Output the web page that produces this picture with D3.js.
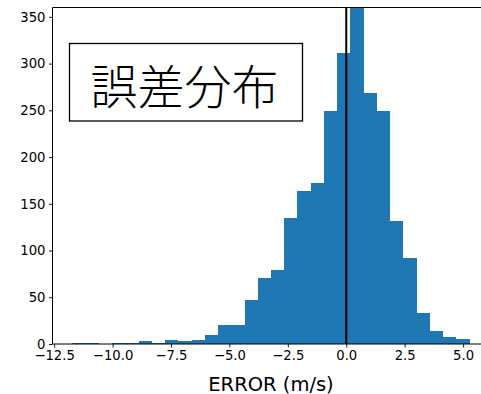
<!DOCTYPE html>
<html>
<head>
<meta charset="utf-8">
<script src="https://cdn.jsdelivr.net/npm/d3@7"></script>
<style>
  html, body { margin: 0; padding: 0; background: #fff; }
  svg { display: block; }
  text { font-family: "DejaVu Sans", sans-serif; fill: #000; }
</style>
</head>
<body>
<svg id="chart" width="481" height="394"></svg>
<script>
// Histogram bin edges (m/s) and counts per bin
const binEdges = [-11.72, -11.153, -10.587, -10.02, -9.453, -8.887, -8.32, -7.753, -7.187, -6.62,
  -6.053, -5.487, -4.92, -4.353, -3.787, -3.22, -2.653, -2.087, -1.52, -0.953,
  -0.387, 0.18, 0.747, 1.313, 1.88, 2.447, 3.013, 3.58, 4.147, 4.713, 5.28];
const binCounts = [1, 1, 0, 1, 1, 3, 1, 4, 3, 4,
  10, 20, 20, 47, 71, 79, 135, 164, 172, 249,
  311, 375, 269, 249, 132, 92, 33, 14, 7, 5];
const xTicks = [-12.5, -10.0, -7.5, -5.0, -2.5, 0.0, 2.5, 5.0];
const yTicks = [0, 50, 100, 150, 200, 250, 300, 350];
const xDomain = [-12.57, 6.13];
const yDomain = [0, 360];
const refLine = 0;
const titleText = "誤差分布";
const xLabel = "ERROR (m/s)";

const svg = d3.select("#chart");
const plot = { left: 52.5, right: 489.5, top: 7.5, bottom: 344 };

const x = d3.scaleLinear().domain(xDomain).range([plot.left, plot.right]);
const y = d3.scaleLinear().domain(yDomain).range([plot.bottom, plot.top]);

svg.append("defs").append("clipPath").attr("id", "plot-clip")
  .append("rect")
  .attr("x", plot.left).attr("y", plot.top)
  .attr("width", plot.right - plot.left).attr("height", plot.bottom - plot.top);

const bins = binCounts.map((c, i) => ({ x0: binEdges[i], x1: binEdges[i + 1], count: c }));

// bars
svg.append("g").attr("clip-path", "url(#plot-clip)")
  .selectAll("rect").data(bins).join("rect")
  .attr("x", d => x(d.x0))
  .attr("width", d => x(d.x1) - x(d.x0))
  .attr("y", d => y(d.count))
  .attr("height", d => y(0) - y(d.count))
  .attr("fill", "#1f77b4")
  .attr("shape-rendering", "crispEdges");

// vertical reference line at zero error
svg.append("line")
  .attr("x1", x(refLine)).attr("x2", x(refLine))
  .attr("y1", plot.top).attr("y2", plot.bottom)
  .attr("stroke", "#000").attr("stroke-width", 2);

// axes
const fmt = d => d3.format(".1f")(d).replace("-", "\u2212");
const xAxis = d3.axisBottom(x).tickValues(xTicks).tickFormat(fmt).tickSize(3.5).tickPadding(3.5);
const yAxis = d3.axisLeft(y).tickValues(yTicks).tickFormat(d3.format("d")).tickSize(3.5).tickPadding(3.5);

const gx = svg.append("g").attr("transform", `translate(0,${plot.bottom})`).call(xAxis);
const gy = svg.append("g").attr("transform", `translate(${plot.left},0)`).call(yAxis);
[gx, gy].forEach(g => {
  g.select(".domain").remove();
  g.selectAll(".tick line").attr("stroke", "#000").attr("stroke-width", 0.9);
  g.selectAll(".tick text").attr("font-family", "DejaVu Sans").attr("font-size", 13.2).attr("fill", "#000");
});

// spines (left, bottom, top; right one lies beyond the view)
const spine = svg.append("g").attr("stroke", "#000").attr("stroke-width", 1).attr("fill", "none");
spine.append("line").attr("x1", plot.left).attr("x2", plot.left).attr("y1", plot.top).attr("y2", plot.bottom);
spine.append("line").attr("x1", plot.left).attr("x2", plot.right).attr("y1", plot.bottom).attr("y2", plot.bottom);
spine.append("line").attr("x1", plot.left).attr("x2", plot.right).attr("y1", plot.top).attr("y2", plot.top);
spine.append("line").attr("x1", plot.right).attr("x2", plot.right).attr("y1", plot.top).attr("y2", plot.bottom);

// x-axis label
svg.append("text")
  .attr("x", (plot.left + plot.right) / 2)
  .attr("y", 390.5)
  .attr("text-anchor", "middle")
  .attr("font-size", 19.5)
  .text(xLabel);

// boxed title inside the plot
const box = { x: 69.5, y: 43.5, w: 233, h: 77.5 };
svg.append("rect")
  .attr("x", box.x).attr("y", box.y).attr("width", box.w).attr("height", box.h)
  .attr("fill", "#fff").attr("stroke", "#000").attr("stroke-width", 1.3);
svg.append("text")
  .attr("x", box.x + box.w / 2 - 1.5)
  .attr("y", box.y + box.h / 2 + 1)
  .attr("text-anchor", "middle")
  .attr("dominant-baseline", "central")
  .style("font-family", '"Noto Sans CJK JP", "Noto Sans CJK SC", sans-serif')
  .style("font-weight", 300)
  .attr("font-size", 47)
  .text(titleText);
</script>
</body>
</html>
